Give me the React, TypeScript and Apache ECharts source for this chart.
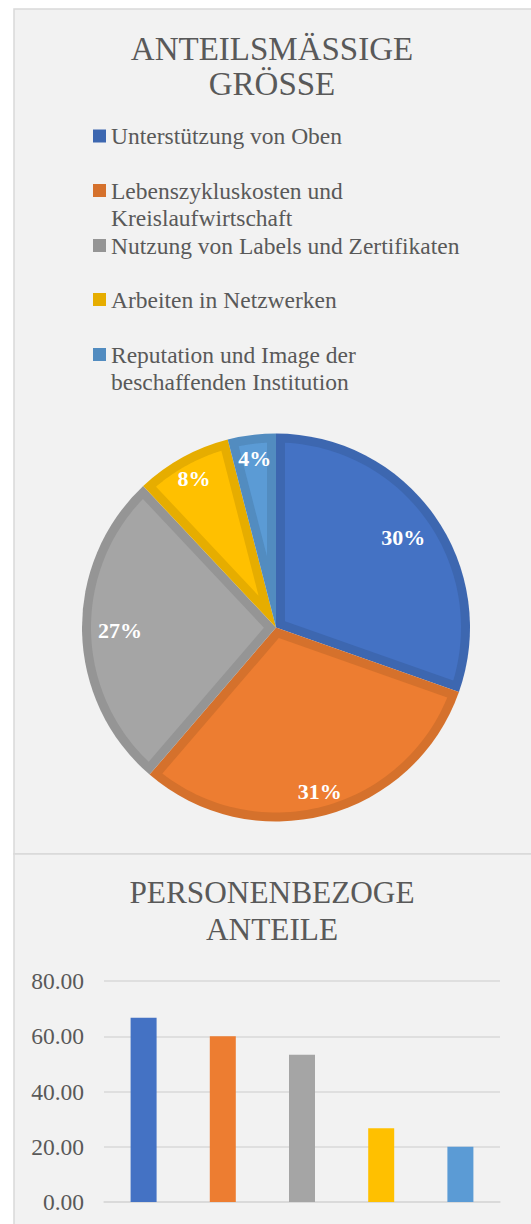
import React, { useEffect, useRef } from "react";
import * as echarts from "echarts";

// ---- data ----
const categories = [
  "Unterstützung von Oben",
  "Lebenszykluskosten und Kreislaufwirtschaft",
  "Nutzung von Labels und Zertifikaten",
  "Arbeiten in Netzwerken",
  "Reputation und Image der beschaffenden Institution",
];
const legendLabels = [
  "Unterstützung von Oben",
  "Lebenszykluskosten und\nKreislaufwirtschaft",
  "Nutzung von Labels und Zertifikaten",
  "Arbeiten in Netzwerken",
  "Reputation und Image der\nbeschaffenden Institution",
];
const pieValues = [30.4, 30.9, 26.7, 8.0, 4.0];
const barValues = [66.67, 60.0, 53.33, 26.67, 20.0];
const yMin = 0;
const yMax = 80;
const yInterval = 20;
const pieTitle = "ANTEILSMÄSSIGE\nGRÖSSE";
const barTitle = "PERSONENBEZOGE\nANTEILE";

// ---- styles ----
const fillColors = ["#4472C4", "#ED7D31", "#A5A5A5", "#FFC000", "#5B9BD5"];
const borderColors = ["#3D67B0", "#D5712C", "#959595", "#E6AD00", "#528CC0"];
// which label ring each slice's label sits on (0 = inner ring, 1 = outer ring)
const labelRing = [0, 1, 0, 1, 1];
const FONT = "Liberation Serif";
const TEXT = "#595959";
const GRID = "#d9d9d9";

const CX = 276;
const CY = 627.5;
const R = 194;
const INSET = 9;
const LH = 27.6;
const legendCenters = [136, 190.5, 245.5, 299.5, 354.5];

export default function App() {
  const ref = useRef<HTMLDivElement>(null);
  useEffect(() => {
    const chart = echarts.init(ref.current!, null, { renderer: "svg" });
    const total = pieValues.reduce((a, b) => a + b, 0);

    const renderItem = (params: any) => {
      const i = params.dataIndex;
      let before = 0;
      for (let k = 0; k < i; k++) before += pieValues[k];
      const a0 = Math.PI / 2 - (before / total) * Math.PI * 2;
      const a1 = Math.PI / 2 - ((before + pieValues[i]) / total) * Math.PI * 2;
      const theta = a0 - a1;
      const mid = (a0 + a1) / 2;
      const apex = INSET / Math.sin(theta / 2);
      const ri = R - INSET;
      const da = Math.asin(INSET / ri);
      const s = a0 - da;
      const e = a1 + da;
      const pts: number[][] = [[CX + apex * Math.cos(mid), CY - apex * Math.sin(mid)]];
      const n = 60;
      for (let k = 0; k <= n; k++) {
        const a = s + ((e - s) * k) / n;
        pts.push([CX + ri * Math.cos(a), CY - ri * Math.sin(a)]);
      }
      return {
        type: "polygon",
        shape: { points: pts },
        style: { fill: fillColors[i] },
      };
    };

    const labelPie = (name: string, inner: number, ring: number) => ({
      type: "pie",
      name,
      center: [CX, CY],
      radius: [inner, R],
      startAngle: 90,
      clockwise: true,
      silent: true,
      emphasis: { disabled: true },
      itemStyle: { color: "rgba(0,0,0,0)", borderWidth: 0 },
      label: {
        show: true,
        position: "inside",
        formatter: (p: any) => Math.round(p.percent) + "%",
        color: "#ffffff",
        fontFamily: FONT,
        fontWeight: "bold",
        fontSize: 22,
        textBorderWidth: 0,
      },
      labelLine: { show: false },
      data: categories.map((n, i) => ({
        name: n,
        value: pieValues[i],
        label: { show: labelRing[i] === ring },
      })),
      z: 4,
    });

    const titleStyle = (size: number, lh: number) => ({
      fontFamily: FONT,
      fontSize: size,
      fontWeight: "normal",
      color: TEXT,
      lineHeight: lh,
    });

    const option: any = {
      animation: false,
      backgroundColor: "#ffffff",
      textStyle: { fontFamily: FONT },
      graphic: [
        {
          type: "rect",
          z: 0,
          silent: true,
          shape: { x: 14, y: 9, width: 540, height: 845 },
          style: { fill: "#f2f2f2", stroke: GRID, lineWidth: 1.5 },
        },
        {
          type: "rect",
          z: 0,
          silent: true,
          shape: { x: 14, y: 854, width: 540, height: 420 },
          style: { fill: "#f2f2f2", stroke: GRID, lineWidth: 1.5 },
        },
      ],
      title: [
        {
          text: pieTitle,
          left: 272,
          top: 31.4,
          textAlign: "center",
          padding: 0,
          textStyle: titleStyle(33, 35),
        },
        {
          text: barTitle,
          left: 272,
          top: 874.3,
          textAlign: "center",
          padding: 0,
          textStyle: titleStyle(31.3, 36.7),
        },
      ],
      legend: categories.map((name, i) => {
        const two = legendLabels[i].indexOf("\n") >= 0;
        return {
          data: [name],
          orient: "vertical",
          left: 93,
          top: two ? legendCenters[i] - 1.5 * LH : legendCenters[i] - LH / 2,
          padding: 0,
          icon: "rect",
          itemWidth: 13,
          itemHeight: 13,
          selectedMode: false,
          formatter: (nm: string) => {
            const lbl = legendLabels[categories.indexOf(nm)];
            return lbl.indexOf("\n") >= 0 ? "\n" + lbl : lbl;
          },
          textStyle: {
            fontFamily: FONT,
            fontSize: 23.5,
            color: TEXT,
            lineHeight: LH,
          },
        };
      }),
      grid: { left: 104, right: 31, top: 981, bottom: 22 },
      xAxis: {
        type: "category",
        data: categories,
        axisLabel: { show: false },
        axisTick: { show: false },
        axisLine: { show: true, lineStyle: { color: GRID, width: 1.5 } },
      },
      yAxis: {
        type: "value",
        min: yMin,
        max: yMax,
        interval: yInterval,
        axisLine: { show: false },
        axisTick: { show: false },
        axisLabel: {
          formatter: (v: number) => v.toFixed(2),
          fontFamily: FONT,
          fontSize: 23.5,
          color: TEXT,
          margin: 20,
        },
        splitLine: { lineStyle: { color: GRID, width: 1.5 } },
      },
      series: [
        {
          type: "pie",
          name: "Anteil",
          center: [CX, CY],
          radius: R,
          startAngle: 90,
          clockwise: true,
          silent: true,
          emphasis: { disabled: true },
          itemStyle: { borderWidth: 0 },
          label: { show: false },
          labelLine: { show: false },
          data: categories.map((n, i) => ({ name: n, value: pieValues[i], itemStyle: { color: borderColors[i] } })),
          z: 2,
        },
        {
          type: "custom",
          name: "AnteilFill",
          coordinateSystem: "none",
          silent: true,
          data: pieValues,
          renderItem,
          z: 3,
        },
        labelPie("AnteilLabelInner", 112, 0),
        labelPie("AnteilLabelOuter", 140, 1),
        {
          type: "bar",
          name: "Personen",
          data: barValues,
          barWidth: 26,
          silent: true,
          itemStyle: { color: (p: any) => fillColors[p.dataIndex] },
        },
      ],
    };
    chart.setOption(option);
    return () => chart.dispose();
  }, []);
  return (
    <div
      ref={ref}
      style={{ position: "absolute", left: 0, top: 0, width: 531, height: 1224, background: "#fff" }}
    />
  );
}
